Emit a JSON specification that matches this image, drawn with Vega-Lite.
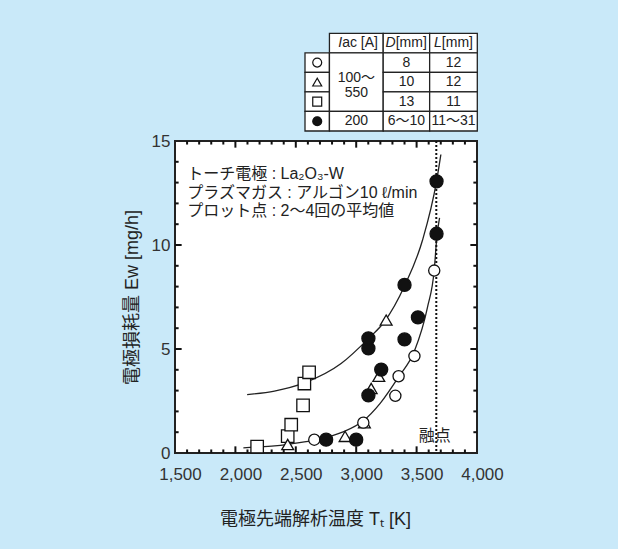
{
  "$schema": "https://vega.github.io/schema/vega-lite/v6.json",
  "width": 302,
  "height": 312,
  "autosize": {"type": "none"},
  "padding": {"left": 175, "top": 141, "right": 141, "bottom": 96},
  "background": "#c9e9f9",
  "config": {
    "view": {"stroke": "#222", "strokeWidth": 2, "fill": "white"},
    "font": "Liberation Sans, Noto Sans CJK JP",
    "axis": {"labelFont": "Liberation Sans, Noto Sans CJK JP", "titleFont": "Liberation Sans, Noto Sans CJK JP", "domain": false, "grid": false, "ticks": false}
  },
  "datasets": {
    "pts": [
      {"T": 2180, "E": 0.31, "s": "s"}, {"T": 2433, "E": 0.81, "s": "s"}, {"T": 2462, "E": 1.36, "s": "s"},
      {"T": 2560, "E": 2.29, "s": "s"}, {"T": 2571, "E": 3.34, "s": "s"}, {"T": 2610, "E": 3.88, "s": "s"},
      {"T": 2433, "E": 0.41, "s": "t"}, {"T": 2908, "E": 0.80, "s": "t"}, {"T": 3068, "E": 1.45, "s": "t"},
      {"T": 3124, "E": 3.10, "s": "t"}, {"T": 3187, "E": 3.69, "s": "t"}, {"T": 3248, "E": 6.39, "s": "t"},
      {"T": 2653, "E": 0.64, "s": "o"}, {"T": 3059, "E": 1.46, "s": "o"}, {"T": 3324, "E": 2.75, "s": "o"},
      {"T": 3351, "E": 3.69, "s": "o"}, {"T": 3482, "E": 4.66, "s": "o"}, {"T": 3646, "E": 8.77, "s": "o"},
      {"T": 2751, "E": 0.64, "s": "f"}, {"T": 3000, "E": 0.64, "s": "f"}, {"T": 3101, "E": 2.77, "s": "f"},
      {"T": 3101, "E": 5.03, "s": "f"}, {"T": 3101, "E": 5.51, "s": "f"}, {"T": 3207, "E": 4.01, "s": "f"},
      {"T": 3400, "E": 5.46, "s": "f"}, {"T": 3400, "E": 8.08, "s": "f"}, {"T": 3511, "E": 6.52, "s": "f"},
      {"T": 3665, "E": 10.54, "s": "f"}, {"T": 3665, "E": 13.06, "s": "f"}
    ],
    "curves": [
      {"T": 2097, "E": 2.81, "c": "upper"}, {"T": 2323, "E": 2.98, "c": "upper"}, {"T": 2571, "E": 3.37, "c": "upper"},
      {"T": 2875, "E": 4.30, "c": "upper"}, {"T": 3103, "E": 5.51, "c": "upper"}, {"T": 3233, "E": 6.31, "c": "upper"},
      {"T": 3400, "E": 8.03, "c": "upper"}, {"T": 3550, "E": 10.25, "c": "upper"}, {"T": 3665, "E": 13.06, "c": "upper"},
      {"T": 3701, "E": 14.35, "c": "upper"},
      {"T": 2066, "E": 0.25, "c": "lower"}, {"T": 2300, "E": 0.33, "c": "lower"}, {"T": 2450, "E": 0.43, "c": "lower"},
      {"T": 2653, "E": 0.62, "c": "lower"}, {"T": 2886, "E": 1.0, "c": "lower"}, {"T": 3059, "E": 1.55, "c": "lower"},
      {"T": 3200, "E": 2.4, "c": "lower"}, {"T": 3351, "E": 3.66, "c": "lower"}, {"T": 3482, "E": 4.9, "c": "lower"},
      {"T": 3590, "E": 7.0, "c": "lower"}, {"T": 3646, "E": 8.8, "c": "lower"}, {"T": 3668, "E": 10.4, "c": "lower"},
      {"T": 3690, "E": 11.3, "c": "lower"}
    ],
    "xticks": [
      {"T": 2000, "E": 0, "E2": 0.32}, {"T": 2500, "E": 0, "E2": 0.32}, {"T": 3000, "E": 0, "E2": 0.32}, {"T": 3500, "E": 0, "E2": 0.32},
      {"T": 2000, "E": 15, "E2": 14.68}, {"T": 2500, "E": 15, "E2": 14.68}, {"T": 3000, "E": 15, "E2": 14.68}, {"T": 3500, "E": 15, "E2": 14.68},
      {"T": 1600, "E": 0, "E2": 0.17}, {"T": 1700, "E": 0, "E2": 0.17}, {"T": 1800, "E": 0, "E2": 0.17}, {"T": 1900, "E": 0, "E2": 0.17},
      {"T": 2100, "E": 0, "E2": 0.17}, {"T": 2200, "E": 0, "E2": 0.17}, {"T": 2300, "E": 0, "E2": 0.17}, {"T": 2400, "E": 0, "E2": 0.17},
      {"T": 2600, "E": 0, "E2": 0.17}, {"T": 2700, "E": 0, "E2": 0.17}, {"T": 2800, "E": 0, "E2": 0.17}, {"T": 2900, "E": 0, "E2": 0.17},
      {"T": 3100, "E": 0, "E2": 0.17}, {"T": 3200, "E": 0, "E2": 0.17}, {"T": 3300, "E": 0, "E2": 0.17}, {"T": 3400, "E": 0, "E2": 0.17},
      {"T": 3600, "E": 0, "E2": 0.17}, {"T": 3700, "E": 0, "E2": 0.17}, {"T": 3800, "E": 0, "E2": 0.17}, {"T": 3900, "E": 0, "E2": 0.17},
      {"T": 1600, "E": 15, "E2": 14.83}, {"T": 1700, "E": 15, "E2": 14.83}, {"T": 1800, "E": 15, "E2": 14.83}, {"T": 1900, "E": 15, "E2": 14.83},
      {"T": 2100, "E": 15, "E2": 14.83}, {"T": 2200, "E": 15, "E2": 14.83}, {"T": 2300, "E": 15, "E2": 14.83}, {"T": 2400, "E": 15, "E2": 14.83},
      {"T": 2600, "E": 15, "E2": 14.83}, {"T": 2700, "E": 15, "E2": 14.83}, {"T": 2800, "E": 15, "E2": 14.83}, {"T": 2900, "E": 15, "E2": 14.83},
      {"T": 3100, "E": 15, "E2": 14.83}, {"T": 3200, "E": 15, "E2": 14.83}, {"T": 3300, "E": 15, "E2": 14.83}, {"T": 3400, "E": 15, "E2": 14.83},
      {"T": 3600, "E": 15, "E2": 14.83}, {"T": 3700, "E": 15, "E2": 14.83}, {"T": 3800, "E": 15, "E2": 14.83}, {"T": 3900, "E": 15, "E2": 14.83}
    ],
    "yticks": [
      {"E": 5, "T": 1500, "T2": 1555}, {"E": 10, "T": 1500, "T2": 1555}, {"E": 5, "T": 4000, "T2": 3945}, {"E": 10, "T": 4000, "T2": 3945},
      {"E": 1, "T": 1500, "T2": 1530}, {"E": 2, "T": 1500, "T2": 1530}, {"E": 3, "T": 1500, "T2": 1530}, {"E": 4, "T": 1500, "T2": 1530},
      {"E": 6, "T": 1500, "T2": 1530}, {"E": 7, "T": 1500, "T2": 1530}, {"E": 8, "T": 1500, "T2": 1530}, {"E": 9, "T": 1500, "T2": 1530},
      {"E": 11, "T": 1500, "T2": 1530}, {"E": 12, "T": 1500, "T2": 1530}, {"E": 13, "T": 1500, "T2": 1530}, {"E": 14, "T": 1500, "T2": 1530},
      {"E": 1, "T": 4000, "T2": 3970}, {"E": 2, "T": 4000, "T2": 3970}, {"E": 3, "T": 4000, "T2": 3970}, {"E": 4, "T": 4000, "T2": 3970},
      {"E": 6, "T": 4000, "T2": 3970}, {"E": 7, "T": 4000, "T2": 3970}, {"E": 8, "T": 4000, "T2": 3970}, {"E": 9, "T": 4000, "T2": 3970},
      {"E": 11, "T": 4000, "T2": 3970}, {"E": 12, "T": 4000, "T2": 3970}, {"E": 13, "T": 4000, "T2": 3970}, {"E": 14, "T": 4000, "T2": 3970}
    ],
    "notes": [
      {"T": 1601, "E": 13.40, "t": "トーチ電極 : La₂O₃-W"},
      {"T": 1601, "E": 12.50, "t": "プラズマガス : アルゴン10 ℓ/min"},
      {"T": 1601, "E": 11.62, "t": "プロット点 : 2〜4回の平均値"}
    ],
    "cells": [
      {"c0": 1, "c1": 3.2, "r0": 0, "r1": 1},
      {"c0": 3.2, "c1": 5.1, "r0": 0, "r1": 1},
      {"c0": 5.1, "c1": 7.05, "r0": 0, "r1": 1},
      {"c0": 0, "c1": 1, "r0": 1, "r1": 2},
      {"c0": 0, "c1": 1, "r0": 2, "r1": 3},
      {"c0": 0, "c1": 1, "r0": 3, "r1": 4},
      {"c0": 0, "c1": 1, "r0": 4, "r1": 5},
      {"c0": 1, "c1": 3.2, "r0": 1, "r1": 4},
      {"c0": 1, "c1": 3.2, "r0": 4, "r1": 5},
      {"c0": 3.2, "c1": 5.1, "r0": 1, "r1": 2},
      {"c0": 3.2, "c1": 5.1, "r0": 2, "r1": 3},
      {"c0": 3.2, "c1": 5.1, "r0": 3, "r1": 4},
      {"c0": 3.2, "c1": 5.1, "r0": 4, "r1": 5},
      {"c0": 5.1, "c1": 7.05, "r0": 1, "r1": 2},
      {"c0": 5.1, "c1": 7.05, "r0": 2, "r1": 3},
      {"c0": 5.1, "c1": 7.05, "r0": 3, "r1": 4},
      {"c0": 5.1, "c1": 7.05, "r0": 4, "r1": 5}
    ],
    "labels": [
      {"cx": 2.1, "cy": 2.3, "t": "100〜"},
      {"cx": 2.1, "cy": 3.07, "t": "550"},
      {"cx": 2.1, "cy": 4.5, "t": "200"},
      {"cx": 4.15, "cy": 1.5, "t": "8"},
      {"cx": 4.15, "cy": 2.5, "t": "10"},
      {"cx": 4.15, "cy": 3.5, "t": "13"},
      {"cx": 4.15, "cy": 4.5, "t": "6〜10"},
      {"cx": 6.075, "cy": 1.5, "t": "12"},
      {"cx": 6.075, "cy": 2.5, "t": "12"},
      {"cx": 6.075, "cy": 3.5, "t": "11"},
      {"cx": 6.075, "cy": 4.5, "t": "11〜31"}
    ],
    "heads": [
      {"cx": 1.52, "cy": 0.5, "a": "I", "b": "ac [A]"},
      {"cx": 3.71, "cy": 0.5, "a": "D", "b": "[mm]"},
      {"cx": 5.6, "cy": 0.5, "a": "L", "b": "[mm]"}
    ],
    "syms": [
      {"cx": 0.5, "cy": 1.5, "s": "o"},
      {"cx": 0.5, "cy": 2.5, "s": "t"},
      {"cx": 0.5, "cy": 3.5, "s": "s"},
      {"cx": 0.5, "cy": 4.5, "s": "f"}
    ]
  },
  "layer": [
    {
      "layer": [
        {
          "data": {"name": "curves"},
          "mark": {"type": "line", "interpolate": "monotone", "stroke": "#222", "strokeWidth": 1.3},
          "encoding": {
            "x": {
              "field": "T", "type": "quantitative",
              "scale": {"domain": [1500, 4000], "nice": false, "zero": false},
              "axis": {
                "orient": "bottom",
                "values": [1500, 2000, 2500, 3000, 3500, 4000],
                "format": ",.0f",
                "labelFontSize": 17, "labelColor": "#333", "labelPadding": 13, "labelOffset": 5,
                "labelFlush": false, "labelOverlap": false,
                "title": "電極先端解析温度 Tₜ [K]", "titleFontSize": 18, "titleFontWeight": "normal",
                "titleColor": "#222", "titlePadding": 28, "titleX": 140, "titleAlign": "center"
              }
            },
            "y": {
              "field": "E", "type": "quantitative",
              "scale": {"domain": [0, 15], "nice": false, "zero": false},
              "axis": {
                "orient": "left",
                "values": [0, 5, 10, 15],
                "labelFontSize": 17, "labelColor": "#333", "labelPadding": 5,
                "labelFlush": false, "labelOverlap": false,
                "title": "電極損耗量 Ew [mg/h]", "titleFontSize": 18, "titleFontWeight": "normal",
                "titleColor": "#222", "titlePadding": 10
              }
            },
            "detail": {"field": "c", "type": "nominal"}
          }
        },
        {
          "data": {"name": "xticks"},
          "mark": {"type": "rule", "stroke": "#111", "strokeWidth": 2},
          "encoding": {"x": {"field": "T", "type": "quantitative"}, "y": {"field": "E", "type": "quantitative"}, "y2": {"field": "E2"}}
        },
        {
          "data": {"name": "yticks"},
          "mark": {"type": "rule", "stroke": "#111", "strokeWidth": 2},
          "encoding": {"y": {"field": "E", "type": "quantitative"}, "x": {"field": "T", "type": "quantitative"}, "x2": {"field": "T2"}}
        },
        {
          "data": {"values": [{"T": 3663}]},
          "mark": {"type": "rule", "stroke": "#111", "strokeWidth": 2, "strokeDash": [2, 2]},
          "encoding": {"x": {"field": "T", "type": "quantitative"}}
        },
        {
          "data": {"name": "pts"},
          "mark": {"type": "point", "filled": true, "stroke": "#111", "strokeWidth": 1.3, "opacity": 1},
          "encoding": {
            "x": {"field": "T", "type": "quantitative"},
            "y": {"field": "E", "type": "quantitative"},
            "shape": {"field": "s", "type": "nominal", "scale": {"domain": ["o", "t", "s", "f"], "range": ["circle", "triangle-up", "square", "circle"]}, "legend": null},
            "fill": {"field": "s", "type": "nominal", "scale": {"domain": ["o", "t", "s", "f"], "range": ["white", "white", "white", "#111"]}, "legend": null},
            "size": {"field": "s", "type": "nominal", "scale": {"domain": ["o", "t", "s", "f"], "range": [125, 170, 140, 100]}, "legend": null}
          }
        },
        {
          "data": {"name": "notes"},
          "mark": {"type": "text", "align": "left", "baseline": "middle", "fontSize": 16, "color": "#222"},
          "encoding": {
            "x": {"field": "T", "type": "quantitative"},
            "y": {"field": "E", "type": "quantitative"},
            "text": {"field": "t", "type": "nominal"}
          }
        },
        {
          "data": {"values": [{"T": 3651, "E": 0.84, "t": "融点"}]},
          "mark": {"type": "text", "align": "center", "baseline": "middle", "fontSize": 16, "color": "#222"},
          "encoding": {
            "x": {"field": "T", "type": "quantitative"},
            "y": {"field": "E", "type": "quantitative"},
            "text": {"field": "t", "type": "nominal"}
          }
        }
      ]
    },
    {
      "layer": [
        {
          "data": {"name": "cells"},
          "mark": {"type": "rect", "fill": "white", "stroke": "#222", "strokeWidth": 1.3},
          "encoding": {
            "x": {"field": "c0", "type": "quantitative", "scale": {"domain": [0, 7.05], "range": [130, 302.3], "nice": false, "zero": false}, "axis": null},
            "x2": {"field": "c1"},
            "y": {"field": "r0", "type": "quantitative", "scale": {"domain": [0, 5], "range": [-107.7, -10], "nice": false, "zero": false}, "axis": null},
            "y2": {"field": "r1"}
          }
        },
        {
          "data": {"name": "labels"},
          "mark": {"type": "text", "align": "center", "baseline": "middle", "fontSize": 14, "color": "#222"},
          "encoding": {
            "x": {"field": "cx", "type": "quantitative", "axis": null},
            "y": {"field": "cy", "type": "quantitative", "axis": null},
            "text": {"field": "t", "type": "nominal"}
          }
        },
        {
          "data": {"name": "heads"},
          "mark": {"type": "text", "align": "right", "baseline": "middle", "fontSize": 14, "fontStyle": "italic", "color": "#222"},
          "encoding": {
            "x": {"field": "cx", "type": "quantitative", "axis": null},
            "y": {"field": "cy", "type": "quantitative", "axis": null},
            "text": {"field": "a", "type": "nominal"}
          }
        },
        {
          "data": {"name": "heads"},
          "mark": {"type": "text", "align": "left", "baseline": "middle", "fontSize": 14, "color": "#222"},
          "encoding": {
            "x": {"field": "cx", "type": "quantitative", "axis": null},
            "y": {"field": "cy", "type": "quantitative", "axis": null},
            "text": {"field": "b", "type": "nominal"}
          }
        },
        {
          "data": {"name": "syms"},
          "mark": {"type": "point", "filled": true, "stroke": "#111", "strokeWidth": 1.2, "size": 80, "opacity": 1},
          "encoding": {
            "x": {"field": "cx", "type": "quantitative", "axis": null},
            "y": {"field": "cy", "type": "quantitative", "axis": null},
            "shape": {"field": "s", "type": "nominal", "legend": null},
            "fill": {"field": "s", "type": "nominal", "legend": null}
          }
        }
      ]
    }
  ],
  "resolve": {"scale": {"x": "independent", "y": "independent"}}
}
